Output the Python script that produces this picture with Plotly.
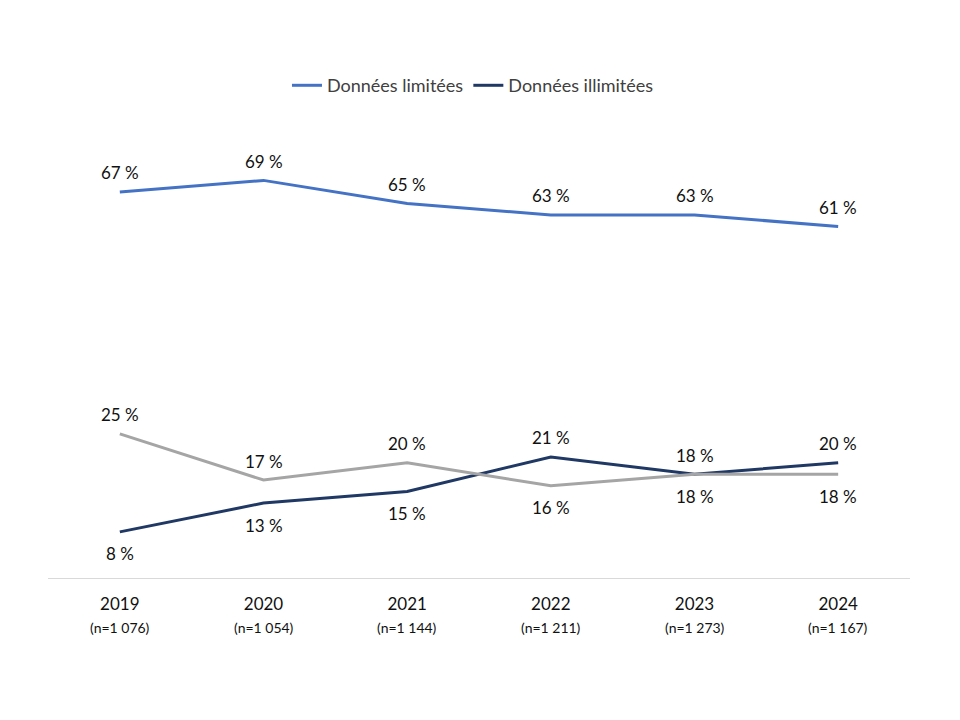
import plotly.graph_objects as go

years = ["2019", "2020", "2021", "2022", "2023", "2024"]
n_labels = ["(n=1 076)", "(n=1 054)", "(n=1 144)", "(n=1 211)", "(n=1 273)", "(n=1 167)"]
limitees = [67, 69, 65, 63, 63, 61]
illimitees = [8, 13, 15, 21, 18, 20]
autre = [25, 17, 20, 16, 18, 18]

pos_limitees = ["top"] * 6
pos_illimitees = ["bottom", "bottom", "bottom", "top", "top", "top"]
pos_autre = ["top", "top", "top", "bottom", "bottom", "bottom"]

FONT = "Lato, Open Sans, Liberation Sans, sans-serif"
x_idx = list(range(len(years)))

fig = go.Figure()
series = [
    ("Données limitées", limitees, "#4472C4", True, pos_limitees),
    ("Données illimitées", illimitees, "#1F3864", True, pos_illimitees),
    ("Autre", autre, "#A5A5A5", False, pos_autre),
]
for name, vals, col, show, pos in series:
    fig.add_trace(go.Scatter(x=x_idx, y=vals, mode="lines", name=name,
                             line=dict(color=col, width=3), showlegend=show,
                             hoverinfo="skip"))

annotations = []
for name, vals, col, show, pos in series:
    for i, (v, p) in enumerate(zip(vals, pos)):
        annotations.append(dict(x=i, y=v, xref="x", yref="y", text=f"{v} %",
                                showarrow=False,
                                yshift=19 if p == "top" else -22,
                                font=dict(family=FONT, size=17, color="#111111")))
for i, n in enumerate(n_labels):
    annotations.append(dict(x=i, y=0, xref="x", yref="y", text=n, showarrow=False,
                            yshift=-49, font=dict(family=FONT, size=14, color="#111111")))

fig.update_layout(
    width=960, height=720,
    paper_bgcolor="white", plot_bgcolor="white",
    margin=dict(l=40, r=58, t=109, b=150),
    font=dict(family=FONT, size=16, color="#111111"),
    legend=dict(orientation="h", x=0.493, xanchor="center", y=1.028, yanchor="bottom",
                font=dict(family=FONT, size=18, color="#404040"),
                itemwidth=30, tracegroupgap=0),
    annotations=annotations,
    xaxis=dict(range=[-0.5, 5.5], tickvals=x_idx, ticktext=years,
               showgrid=False, zeroline=False, showline=False, ticks="",
               ticklabelstandoff=14,
               tickfont=dict(family=FONT, size=17, color="#111111"), fixedrange=True),
    yaxis=dict(range=[0, 80], visible=True, showgrid=False, zeroline=True,
               zerolinecolor="#D9D9D9", zerolinewidth=1, showticklabels=False,
               ticks="", showline=False),
)

fig.write_html("out.html")
